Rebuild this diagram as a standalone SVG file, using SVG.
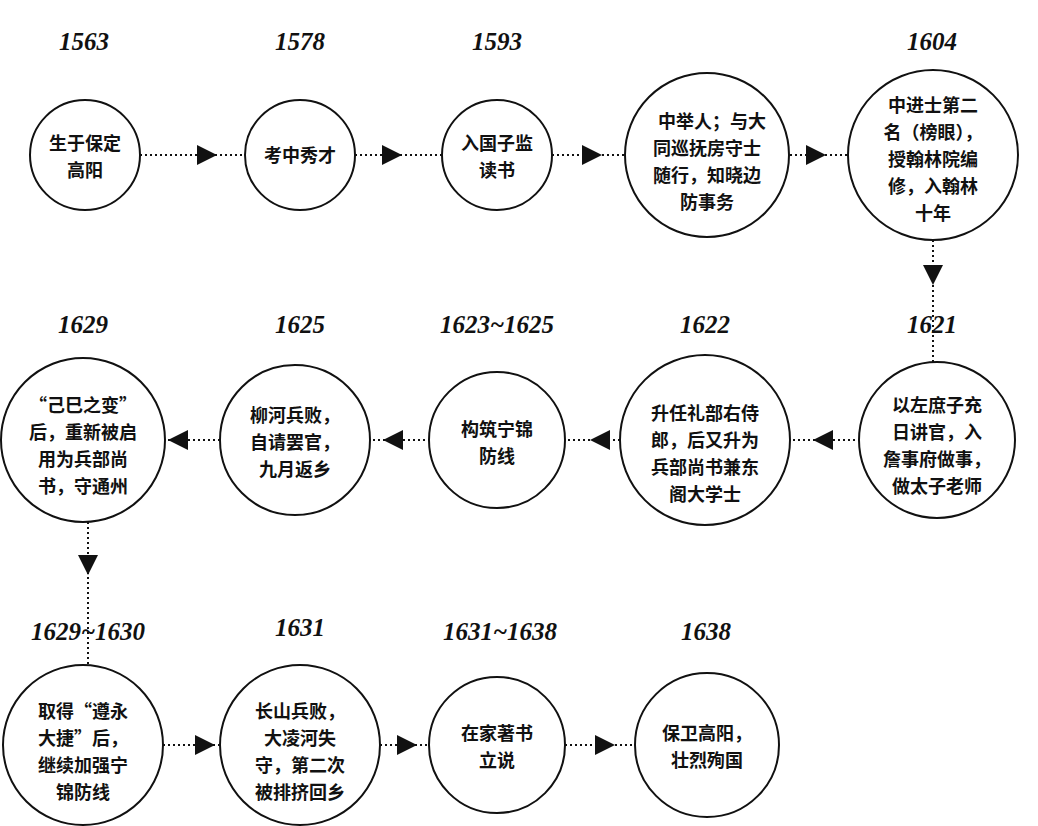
<svg xmlns="http://www.w3.org/2000/svg" width="1038" height="826" viewBox="0 0 1038 826">
<style>
.n{fill:#fff;stroke:#111;stroke-width:2}
.t{font-family:"Noto Sans CJK SC",sans-serif;font-size:18px;font-weight:bold;fill:#111;text-anchor:middle}
.y{font-family:"Liberation Serif",serif;font-size:25px;font-weight:bold;font-style:italic;fill:#111;text-anchor:middle}
.c{fill:none;stroke:#111;stroke-width:2;stroke-dasharray:2 3;marker-mid:url(#a)}
</style>
<defs><marker id="a" viewBox="0 0 10 10" refX="5" refY="5" markerWidth="20" markerHeight="20" markerUnits="userSpaceOnUse" orient="auto"><path d="M0,0L10,5L0,10Z" fill="#111"/></marker></defs>
<rect width="1038" height="826" fill="#fff"/>
<g id="years">
<text class="y" x="84" y="50">1563</text><text class="y" x="300" y="50">1578</text><text class="y" x="497" y="50">1593</text><text class="y" x="932" y="50">1604</text>
<text class="y" x="83" y="333">1629</text><text class="y" x="300" y="333">1625</text><text class="y" x="497" y="333">1623~1625</text><text class="y" x="705" y="333">1622</text><text class="y" x="932" y="333">1621</text>
<text class="y" x="88" y="640">1629~1630</text><text class="y" x="300" y="636">1631</text><text class="y" x="500" y="640">1631~1638</text><text class="y" x="706" y="640">1638</text>
</g>
<g id="connectors">
<path class="c" d="M140,155L207,155L245,155"/>
<path class="c" d="M355,155L392,155L442,155"/>
<path class="c" d="M552,155L592,155L625,155"/>
<path class="c" d="M790,155L816,155L848,155"/>
<path class="c" d="M933,240L933,275L933,362"/>
<path class="c" d="M860,440L823,440L790,440"/>
<path class="c" d="M620,440L600,440L565,440"/>
<path class="c" d="M430,440L393,440L370,440"/>
<path class="c" d="M220,440L178,440L165,440"/>
<path class="c" d="M88,522L88,565L88,665"/>
<path class="c" d="M163,745L205,745L220,745"/>
<path class="c" d="M380,745L407,745L430,745"/>
<path class="c" d="M565,745L605,745L635,745"/>
</g>
<g id="n1"><circle class="n" cx="85" cy="155" r="55"/><text class="t" x="85" y="150">生于保定</text><text class="t" x="85" y="177">高阳</text></g>
<g id="n2"><circle class="n" cx="300" cy="155" r="55"/><text class="t" x="300" y="162">考中秀才</text></g>
<g id="n3"><circle class="n" cx="497" cy="155" r="55"/><text class="t" x="497" y="150">入国子监</text><text class="t" x="497" y="177">读书</text></g>
<g id="n4"><circle class="n" cx="707" cy="155" r="82"/><text class="t" x="712" y="128">中举人；与大</text><text class="t" x="707" y="155">同巡抚房守士</text><text class="t" x="707" y="182">随行，知晓边</text><text class="t" x="707" y="209">防事务</text></g>
<g id="n5"><circle class="n" cx="933" cy="155" r="85"/><text class="t" x="933" y="112">中进士第二</text><text class="t" x="933" y="139">名（榜眼），</text><text class="t" x="933" y="166">授翰林院编</text><text class="t" x="933" y="193">修，入翰林</text><text class="t" x="933" y="220">十年</text></g>
<g id="n6"><circle class="n" cx="937" cy="440" r="78"/><text class="t" x="937" y="412">以左庶子充</text><text class="t" x="937" y="439">日讲官，入</text><text class="t" x="937" y="466">詹事府做事，</text><text class="t" x="937" y="493">做太子老师</text></g>
<g id="n7"><circle class="n" cx="705" cy="440" r="85"/><text class="t" x="705" y="420">升任礼部右侍</text><text class="t" x="705" y="447">郎，后又升为</text><text class="t" x="705" y="474">兵部尚书兼东</text><text class="t" x="705" y="501">阁大学士</text></g>
<g id="n8"><circle class="n" cx="497" cy="440" r="68"/><text class="t" x="497" y="436">构筑宁锦</text><text class="t" x="497" y="463">防线</text></g>
<g id="n9"><circle class="n" cx="295" cy="440" r="75"/><text class="t" x="295" y="422">柳河兵败，</text><text class="t" x="295" y="449">自请罢官，</text><text class="t" x="295" y="476">九月返乡</text></g>
<g id="n10"><circle class="n" cx="83" cy="440" r="82"/><text class="t" x="83" y="412">“己巳之变”</text><text class="t" x="83" y="439">后，重新被启</text><text class="t" x="83" y="466">用为兵部尚</text><text class="t" x="83" y="493">书，守通州</text></g>
<g id="n11"><circle class="n" cx="83" cy="745" r="80"/><text class="t" x="83" y="718">取得“遵永</text><text class="t" x="83" y="745">大捷”后，</text><text class="t" x="83" y="772">继续加强宁</text><text class="t" x="83" y="799">锦防线</text></g>
<g id="n12"><circle class="n" cx="300" cy="745" r="80"/><text class="t" x="300" y="718">长山兵败，</text><text class="t" x="300" y="745">大凌河失</text><text class="t" x="300" y="772">守，第二次</text><text class="t" x="300" y="799">被排挤回乡</text></g>
<g id="n13"><circle class="n" cx="497" cy="745" r="68"/><text class="t" x="497" y="740">在家著书</text><text class="t" x="497" y="767">立说</text></g>
<g id="n14"><circle class="n" cx="707" cy="745" r="72"/><text class="t" x="707" y="740">保卫高阳，</text><text class="t" x="707" y="767">壮烈殉国</text></g>
</svg>
